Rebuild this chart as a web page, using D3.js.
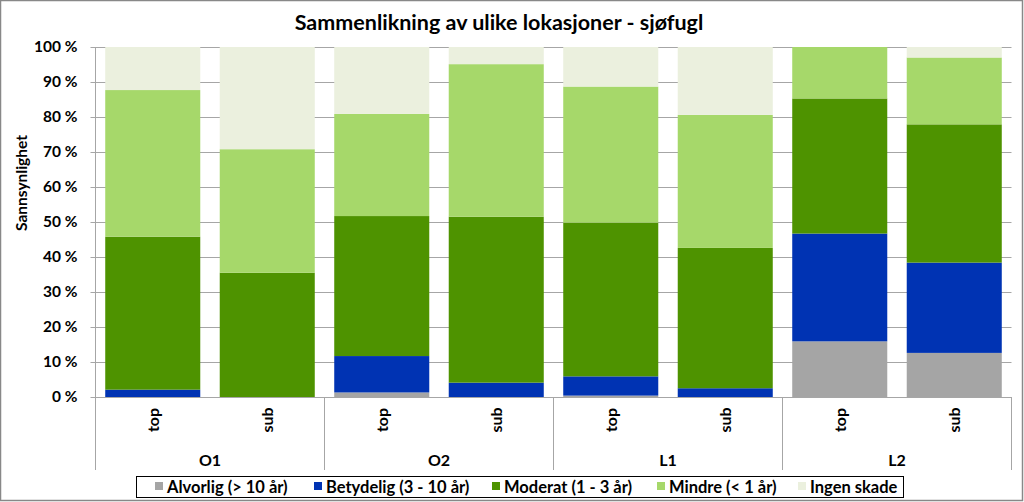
<!DOCTYPE html>
<html><head><meta charset="utf-8">
<script src="https://cdn.jsdelivr.net/npm/d3@7"></script>
<style>
html,body{margin:0;padding:0;background:#fff;}
text{font-family:Lato,"Open Sans",sans-serif;font-weight:bold;fill:#000;}
</style></head>
<body><svg id="c" width="1024" height="502"></svg>
<script>
const groups = ["O1","O2","L1","L2"];
const subs = ["top","sub"];
const seriesNames = ["Alvorlig (> 10 år)","Betydelig (3 - 10 år)","Moderat (1 - 3 år)","Mindre (< 1 år)","Ingen skade"];
const colors = ["#A5A5A5","#0033B3","#4E9300","#A6D86A","#EBF0DE"];
// order of bars: O1 top, O1 sub, O2 top, O2 sub, L1 top, L1 sub, L2 top, L2 sub
const alvorlig  = [0,   0,    1.3, 0,    0.4, 0,    15.9, 12.6];
const betydelig = [2.1, 0,   10.4, 4.1,  5.5, 2.5,  30.8, 25.8];
const moderat   = [43.7,35.5, 40.0,47.4, 43.9,40.1, 38.6, 39.5];
const mindre    = [41.9,35.3, 29.2,43.6, 38.9,38.0, 14.7, 19.1];
const ingen     = [12.3,29.2, 19.1, 4.9, 11.3,19.4,  0.0,  3.0];
const yTicks = [0,10,20,30,40,50,60,70,80,90,100];

(function(){
const svg = d3.select("#c");
const W=1024,H=502;
svg.append("rect").attr("x",0.5).attr("y",0.5).attr("width",W-2).attr("height",H-2)
  .attr("fill","#fff").attr("stroke","#888").attr("stroke-width",1.5);

const pL=95.5, pR=1011.5, pT=47, pB=397;
const keys = [];
groups.forEach(g=>subs.forEach(s=>keys.push(g+"|"+s)));
const x = d3.scaleBand().domain(keys).range([pL,pR]).paddingInner(0.17).paddingOuter(0.085);
const y = d3.scaleLinear().domain([0,100]).range([pB,pT]);

svg.append("g").selectAll("line").data(yTicks.filter(d=>d>0)).join("line")
  .attr("x1",pL).attr("x2",pR).attr("y1",d=>Math.round(y(d))+0.5).attr("y2",d=>Math.round(y(d))+0.5)
  .attr("stroke","#A6A6A6").attr("stroke-width",1);

const rows = keys.map((k,i)=>({key:k, s0:alvorlig[i], s1:betydelig[i], s2:moderat[i], s3:mindre[i], s4:ingen[i]}));
const stack = d3.stack().keys(["s0","s1","s2","s3","s4"])(rows);
svg.append("g").selectAll("g").data(stack).join("g").attr("fill",(d,i)=>colors[i])
  .selectAll("rect").data(d=>d).join("rect")
  .attr("x",d=>x(d.data.key)).attr("width",x.bandwidth())
  .attr("y",d=>y(Math.min(100,d[1]))).attr("height",d=>Math.max(0,y(d[0])-y(Math.min(100,d[1]))));

const ya = d3.axisLeft(y).tickValues(yTicks).tickFormat(d=>d+" %").tickSize(5).tickPadding(13);
const yg = svg.append("g").attr("transform",`translate(${pL},0)`).call(ya);
yg.select(".domain").remove();
yg.selectAll(".tick line").attr("stroke","#A6A6A6");
yg.selectAll(".tick text").style("font-size","15.5px").style("font-family","Lato,sans-serif").style("font-weight","bold").attr("fill","#000");
svg.append("line").attr("x1",pL).attr("x2",pL).attr("y1",pT).attr("y2",470).attr("stroke","#A6A6A6");
svg.append("line").attr("x1",pL).attr("x2",pR).attr("y1",pB+0.5).attr("y2",pB+0.5).attr("stroke","#A6A6A6");

const gw = (pR-pL)/groups.length;
groups.forEach((g,i)=>{
  const xr = pL+gw*(i+1);
  svg.append("line").attr("x1",xr).attr("x2",xr).attr("y1",pB).attr("y2",470).attr("stroke","#A6A6A6");
  svg.append("text").attr("x",pL+gw*(i+0.5)).attr("y",466).attr("text-anchor","middle")
    .style("font-size","16px").text(g);
});
keys.forEach(k=>{
  const cx = x(k)+x.bandwidth()/2;
  svg.append("text").attr("transform",`translate(${cx+6},420) rotate(-90)`).attr("text-anchor","middle")
    .style("font-size","16px").text(k.split("|")[1]);
});

svg.append("text").attr("x",499).attr("y",30).attr("text-anchor","middle").style("font-size","21.5px").text("Sammenlikning av ulike lokasjoner - sjøfugl");
svg.append("text").attr("transform","translate(27,183) rotate(-90)").attr("text-anchor","middle").style("font-size","15.5px").text("Sannsynlighet");

svg.append("rect").attr("x",136.5).attr("y",476.5).attr("width",767).attr("height",21).attr("fill","#fff").attr("stroke","#000").attr("stroke-width",1);
const legX = [155,314,492,657,798];
seriesNames.forEach((n,i)=>{
  svg.append("rect").attr("x",legX[i]).attr("y",482).attr("width",8).attr("height",8).attr("fill",colors[i]);
  svg.append("text").attr("x",legX[i]+12).attr("y",493).style("font-size","16.5px").text(n);
});
})();
</script></body></html>
